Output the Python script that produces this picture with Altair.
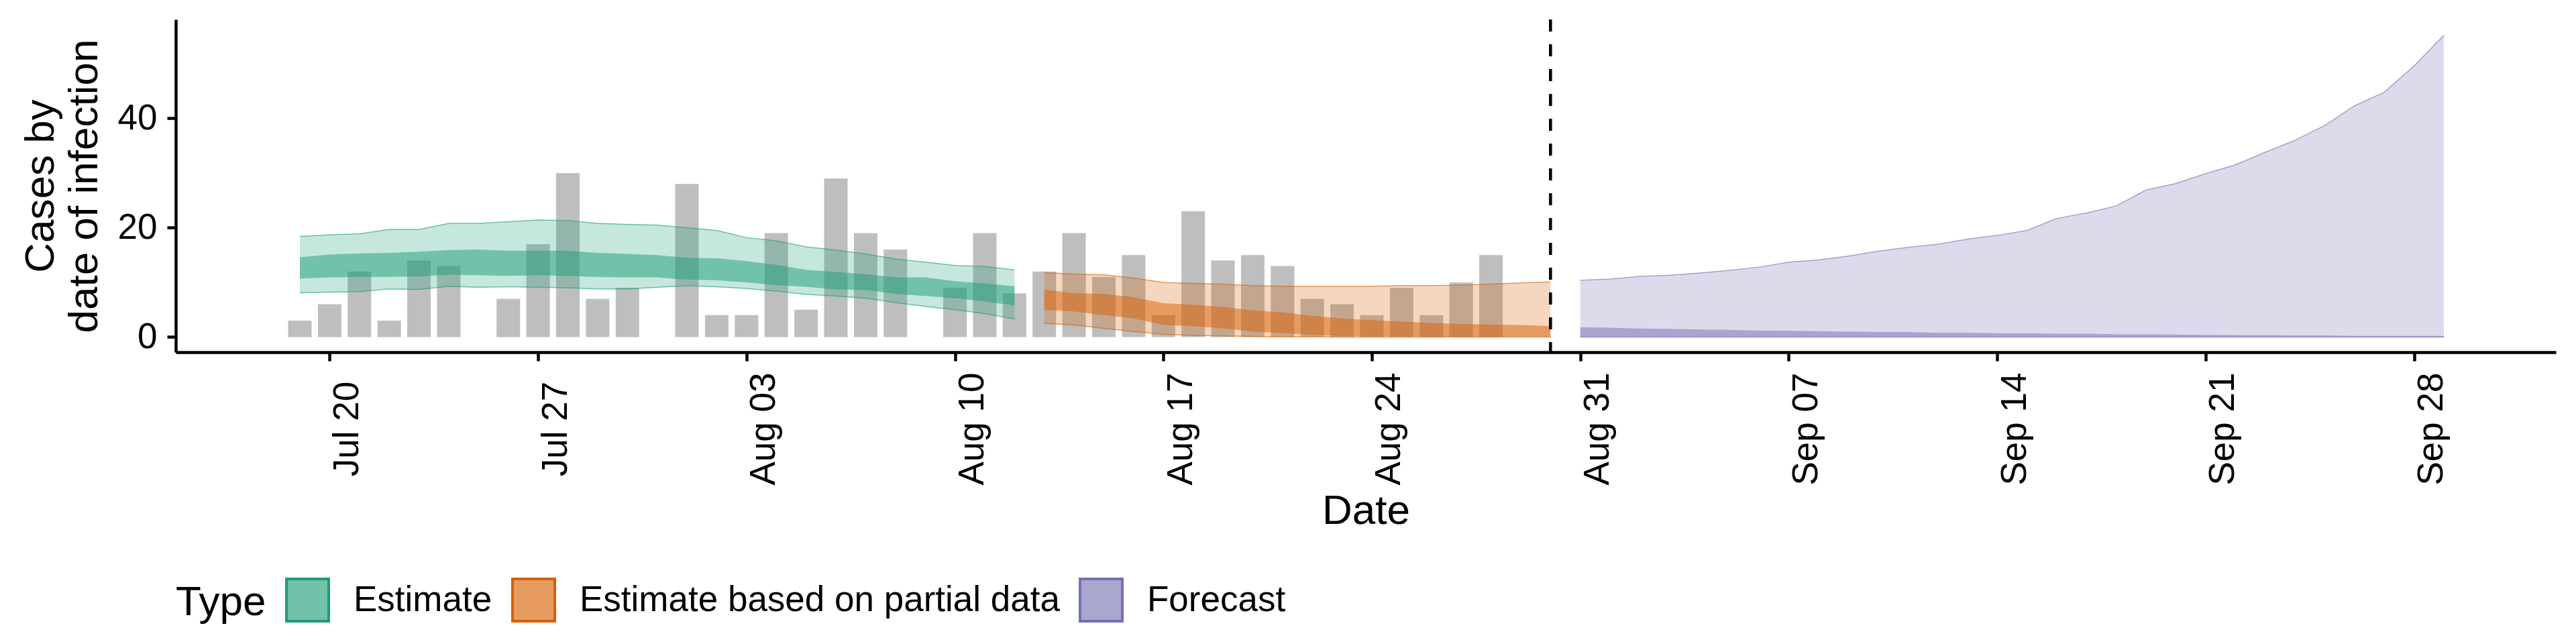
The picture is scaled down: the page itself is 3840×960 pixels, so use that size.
import altair as alt
import pandas as pd

# daily case counts by date of infection, from 19 Jul (0 = no bar)
case_start = "2020-07-19"
cases = [3, 6, 12, 3, 14, 13, 0, 7, 17, 30, 7, 9, 0,
         28, 4, 4, 19, 5, 29, 19, 16, 0, 9, 19, 8, 12, 19, 11, 15,
         4, 23, 14, 15, 13, 7, 6, 4, 9, 4, 10, 15]

# "Estimate": 19 Jul - 12 Aug
est_start = "2020-07-19"
est_lo90 = [8.1, 8.2, 8.3, 8.8, 8.7, 9.3, 9.1, 9.2, 9.1, 9.0, 8.8, 8.8, 9.1,
            9.4, 9.2, 8.9, 8.4, 7.8, 7.5, 7.1, 6.3, 5.6, 5.0, 4.3, 3.3]
est_hi90 = [18.4, 18.7, 18.9, 19.7, 19.7, 20.8, 20.8, 21.1, 21.4, 21.3, 20.8, 20.6, 20.5,
            20.0, 19.5, 18.2, 17.6, 16.5, 15.9, 15.2, 14.3, 13.7, 13.1, 12.9, 12.3]
est_lo50 = [10.7, 10.9, 11.0, 11.0, 11.1, 11.4, 11.3, 11.2, 11.3, 11.2, 11.0, 10.9, 10.9,
            10.5, 10.4, 10.0, 9.5, 9.2, 8.7, 8.6, 7.9, 7.5, 7.1, 6.5, 5.8]
est_hi50 = [14.6, 15.1, 15.3, 15.4, 15.6, 15.9, 16.0, 15.8, 15.8, 15.8, 15.4, 15.2, 15.0,
            14.5, 14.4, 13.9, 13.2, 12.3, 11.9, 11.5, 10.9, 10.9, 10.2, 9.8, 9.3]

# "Estimate based on partial data": 13 Aug - 30 Aug
part_start = "2020-08-13"
part_lo90 = [2.5, 2.2, 1.6, 1.0, 0.5, 0.3, 0.2, 0.1, 0.05, 0.05, 0, 0, 0, 0, 0, 0, 0, 0]
part_hi90 = [11.8, 11.5, 11.4, 10.8, 10.0, 9.8, 9.7, 9.4, 9.3, 9.3, 9.3, 9.3, 9.4, 9.4,
             9.5, 9.7, 9.9, 10.1]
part_lo50 = [5.0, 4.7, 4.0, 3.4, 2.2, 2.0, 1.6, 1.0, 0.7, 0.4, 0.2, 0.1, 0.1, 0.05,
             0.05, 0.05, 0.05, 0.05]
part_hi50 = [8.7, 8.0, 7.9, 7.3, 6.2, 5.9, 5.5, 4.9, 4.5, 3.9, 3.4, 3.1, 2.8, 2.6,
             2.4, 2.3, 2.2, 2.0]

# "Forecast": 31 Aug - 29 Sep
fc_start = "2020-08-31"
fc_lo90 = [0] * 30
fc_hi90 = [10.4, 10.6, 11.1, 11.3, 11.7, 12.2, 12.8, 13.7, 14.1, 14.8, 15.7, 16.4, 17.0,
           17.9, 18.6, 19.5, 21.7, 22.7, 24.0, 26.9, 28.1, 29.9, 31.5, 33.8, 36.0, 38.7,
           42.3, 44.8, 49.6, 55.2]
fc_lo50 = [0] * 30
fc_hi50 = [1.8, 1.7, 1.55, 1.5, 1.4, 1.3, 1.2, 1.15, 1.05, 1.0, 0.95, 0.9, 0.8, 0.8,
           0.7, 0.7, 0.6, 0.6, 0.5, 0.5, 0.45, 0.4, 0.35, 0.35, 0.3, 0.3, 0.2, 0.2, 0.2, 0.2]

types = ["Estimate", "Estimate based on partial data", "Forecast"]
type_colors = ["#1B9E77", "#D95F02", "#7570B3"]
# legend key fills (the colours above at ~0.6 opacity on white)
key_fills = ["#71C2AA", "#E69B61", "#A9A6CF"]

tick_dates = ["2020-07-20", "2020-07-27", "2020-08-03", "2020-08-10", "2020-08-17",
              "2020-08-24", "2020-08-31", "2020-09-07", "2020-09-14", "2020-09-21",
              "2020-09-28"]
forecast_from = "2020-08-30"
x_limits = ["2020-07-14 22:41", "2020-10-02 15:36"]
y_limits = [-2.77, 58.1]


def ms(s):
    return int(pd.Timestamp(s, tz="UTC").value // 1_000_000)


def days(start, n):
    return list(pd.date_range(start, periods=n).strftime("%Y-%m-%d"))


bars = pd.DataFrame({"date": days(case_start, len(cases)), "cases": cases})
bars = bars[bars["cases"] > 0]

parts = []
for t, start, lo90, hi90, lo50, hi50 in [
    (types[0], est_start, est_lo90, est_hi90, est_lo50, est_hi50),
    (types[1], part_start, part_lo90, part_hi90, part_lo50, part_hi50),
    (types[2], fc_start, fc_lo90, fc_hi90, fc_lo50, fc_hi50),
]:
    parts.append(pd.DataFrame({"date": days(start, len(hi90)), "type": t,
                               "lo90": lo90, "hi90": hi90, "lo50": lo50, "hi50": hi50}))
bands = pd.concat(parts, ignore_index=True)
edges = bands.melt(id_vars=["date", "type"], value_vars=["lo90", "hi90"],
                   var_name="edge", value_name="value")

FONT = "Liberation Sans"
x_scale = alt.Scale(type="utc", domain=[ms(d) for d in x_limits])
y_scale = alt.Scale(domain=y_limits, nice=False, zero=False)
# legend scales (fill/stroke of the key) and a reversed-but-identical mapping for the marks,
# so the disabled colour legend is not merged with the real one
key_fill_scale = alt.Scale(domain=types, range=key_fills)
key_stroke_scale = alt.Scale(domain=types, range=type_colors)
col_scale = alt.Scale(domain=types[::-1], range=type_colors[::-1])

x_axis = alt.Axis(values=[ms(d) for d in tick_dates], format="%b %d", labelAngle=270,
                  labelAlign="center", labelBaseline="top",
                  grid=False, title="Date", labelFlush=False, labelOverlap=False,
                  labelPadding=101, titlePadding=9)
y_axis = alt.Axis(values=[0, 20, 40], grid=False, title=["Cases by", "date of infection"],
                  labelPadding=15, titlePadding=18, titleLineHeight=65)

legend = alt.Legend(title="Type", orient="none", legendX=0, legendY=832,
                    direction="horizontal", titleOrient="left", symbolType="square",
                    symbolSize=3969, symbolStrokeWidth=4, labelFontSize=53,
                    titleFontSize=62, labelOffset=35, columnPadding=22, titlePadding=28,
                    labelLimit=2000, padding=0, titleFontWeight="normal",
                    labelFont=FONT, titleFont=FONT)

bar_layer = alt.Chart(bars).mark_bar(color="#BEBEBE", width=35).encode(
    x=alt.X("date:T", scale=x_scale, axis=x_axis),
    y=alt.Y("cases:Q", scale=y_scale, axis=y_axis),
)

outer = alt.Chart(bands).mark_area(fillOpacity=0.25).encode(
    x="date:T", y="lo90:Q", y2="hi90:Q",
    color=alt.Color("type:N", scale=col_scale, legend=None),
)
inner = alt.Chart(bands).mark_area(fillOpacity=0.5).encode(
    x="date:T", y="lo50:Q", y2="hi50:Q",
    color=alt.Color("type:N", scale=col_scale, legend=None),
)
edge_lines = alt.Chart(edges).mark_line(strokeWidth=1.5, strokeOpacity=0.6).encode(
    x="date:T", y="value:Q",
    color=alt.Color("type:N", scale=col_scale, legend=None),
    detail="edge:N",
)
vline = alt.Chart(pd.DataFrame({"date": [forecast_from]})).mark_rule(
    color="black", strokeWidth=4.5, strokeDash=[18, 19]
).encode(x="date:T")

# squares that only carry the legend; clipped out of the plot
key = alt.Chart(pd.DataFrame({"type": types})).mark_square(
    filled=True, opacity=1, strokeWidth=4, clip=True
).encode(
    x=alt.value(-300), y=alt.value(-300),
    fill=alt.Fill("type:N", scale=key_fill_scale, legend=legend),
    stroke=alt.Stroke("type:N", scale=key_stroke_scale, legend=legend),
)

chart = alt.layer(bar_layer, outer, inner, edge_lines, vline, key).properties(
    width=3548, height=496,
    autosize=alt.AutoSizeParams(type="none"),
    padding={"left": 254, "top": 21, "right": 22, "bottom": 427},
).configure(font=FONT).configure_view(stroke=None).configure_axis(
    labelFontSize=53, titleFontSize=62, titleFontWeight="normal",
    labelColor="black", titleColor="black", tickColor="black", domainColor="black",
    tickSize=13, tickWidth=4.5, domainWidth=4.5, labelFont=FONT, titleFont=FONT,
)

chart.save("out.html", embed_options={"renderer": "svg", "actions": False})
